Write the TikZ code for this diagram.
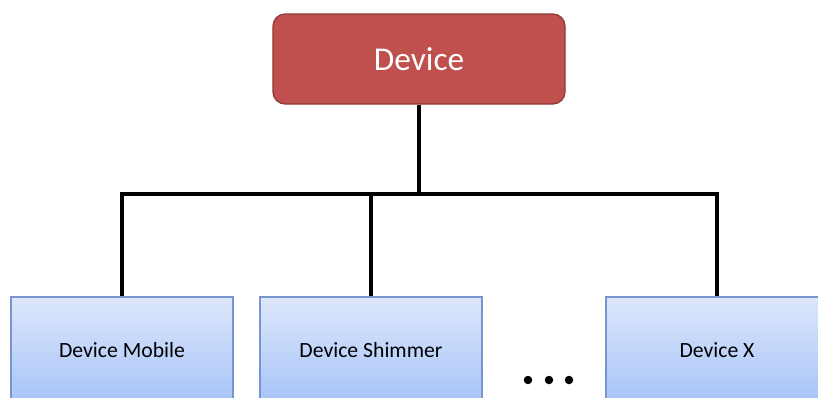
\documentclass[tikz,border=0pt]{standalone}
\usepackage{fontspec}
\setmainfont{Carlito}
\definecolor{topfill}{RGB}{192,80,77}
\definecolor{topline}{RGB}{140,56,54}
\definecolor{btop}{RGB}{221,231,252}
\definecolor{bbot}{RGB}{166,195,247}
\definecolor{bline}{RGB}{120,150,205}
\tikzset{
  rootbox/.style={draw=topline, line width=1.2pt, fill=topfill, rounded corners=12pt,
    minimum width=292pt, minimum height=90pt, inner sep=0pt, text=white, font=\fontsize{33.3}{40}\selectfont},
  leafbox/.style={draw=bline, line width=1.2pt, top color=btop, bottom color=bbot,
    minimum width=222pt, minimum height=106pt, inner sep=0pt, text=black, font=\fontsize{21.7}{26}\selectfont},
  conn/.style={line width=3.5pt, black, line join=miter},
  dotmark/.style={circle, fill=black, minimum size=8.5pt, inner sep=0pt}
}
\begin{document}
\begin{tikzpicture}[x=1pt,y=-1pt]
\useasboundingbox (0,0) rectangle (818,397);
\clip (0,0) rectangle (818,397);
\node[rootbox] (dev) at (419,59) {Device};
\node[leafbox] (mob) at (122,350) {Device Mobile};
\node[leafbox] (shim) at (371,350) {Device Shimmer};
\node[leafbox] (x) at (717,350) {Device X};
\coordinate (j) at (419,194);
\draw[conn] (dev.south) -- (j);
\draw[conn] (mob.north) |- (j) -| (x.north);
\draw[conn] (shim.north) -- (shim.north |- j);
\node[dotmark] (d1) at (528,380) {};
\node[dotmark] (d2) at (549,380) {};
\node[dotmark] (d3) at (569,380) {};
\end{tikzpicture}
\end{document}
